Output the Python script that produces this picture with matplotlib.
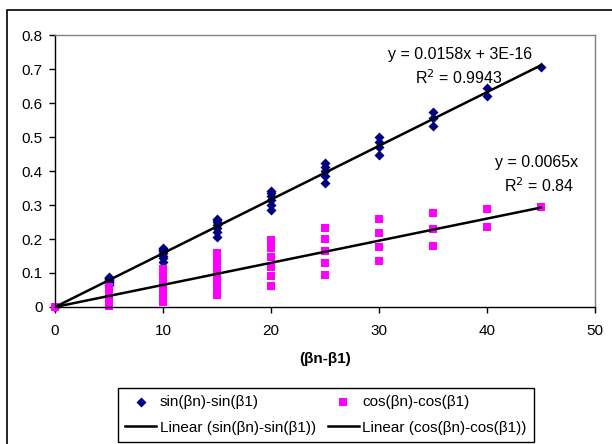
import matplotlib
matplotlib.use("Agg")
import matplotlib.pyplot as plt
from matplotlib.patches import Rectangle
from matplotlib.lines import Line2D

plt.rcParams['font.family'] = ['Liberation Sans', 'DejaVu Sans']

# differences (βn-β1) in degrees
sin_x = [0,
         5, 5, 5, 5, 5, 5, 5, 5, 5,
         10, 10, 10, 10, 10, 10, 10, 10,
         15, 15, 15, 15, 15, 15, 15,
         20, 20, 20, 20, 20, 20,
         25, 25, 25, 25, 25,
         30, 30, 30, 30,
         35, 35, 35,
         40, 40,
         45]
sin_y = [0,
         0.0872, 0.0864, 0.0852, 0.0832, 0.0806, 0.0774, 0.0736, 0.0692, 0.0643,
         0.1736, 0.1716, 0.1684, 0.1638, 0.1580, 0.1510, 0.1428, 0.1335,
         0.2588, 0.2548, 0.2490, 0.2416, 0.2316, 0.2202, 0.2071,
         0.3420, 0.3354, 0.3262, 0.3148, 0.3004, 0.2845,
         0.4226, 0.4128, 0.3999, 0.3840, 0.3651,
         0.5000, 0.4864, 0.4692, 0.4483,
         0.5736, 0.5556, 0.5335,
         0.6428, 0.6199,
         0.7071]
cos_x = sin_x
cos_y = [0,
         0.0038, 0.0114, 0.0189, 0.0262, 0.0334, 0.0403, 0.0468, 0.0532, 0.0589,
         0.0152, 0.0303, 0.0451, 0.0596, 0.0734, 0.0871, 0.0999, 0.1121,
         0.0341, 0.0565, 0.0785, 0.0996, 0.1205, 0.1397, 0.1589,
         0.0603, 0.0899, 0.1188, 0.1467, 0.1728, 0.1982,
         0.0937, 0.1302, 0.1656, 0.1987, 0.2326,
         0.1340, 0.1770, 0.2188, 0.2589,
         0.1808, 0.2301, 0.2777,
         0.2340, 0.2891,
         0.2929]

sin_slope, sin_icpt = 0.0158, 3e-16
cos_slope = 0.0065
trend_x = [0, 45]

x_ticks = [0, 10, 20, 30, 40, 50]
y_ticks = [0, 0.1, 0.2, 0.3, 0.4, 0.5, 0.6, 0.7, 0.8]
y_tick_labels = ['0', '0.1', '0.2', '0.3', '0.4', '0.5', '0.6', '0.7', '0.8']

W, H = 612, 444
FS = 11
fig = plt.figure(figsize=(W / 100, H / 100), dpi=100)

# outer chart border (top and left visible)
fig.patches.append(Rectangle((7 / W, -0.1), 1.2, (H - 10) / H + 0.1, transform=fig.transFigure,
                             fill=False, edgecolor='black', linewidth=1.2))

ax = fig.add_axes([55 / W, (H - 307) / H, 540 / W, 272 / H])
ax.set_xlim(0, 50)
ax.set_ylim(0, 0.8)

l_sin, = ax.plot(trend_x, [sin_slope * v + sin_icpt for v in trend_x], color='black', lw=1.8, zorder=3)
l_cos, = ax.plot(trend_x, [cos_slope * v for v in trend_x], color='black', lw=1.8, zorder=3)
s_sin = ax.scatter(sin_x, sin_y, marker='D', s=26, color='#000080', linewidths=0, zorder=2, clip_on=False)
s_cos = ax.scatter(cos_x, cos_y, marker='s', s=28, color='#FF00FF', linewidths=0, zorder=2.5, clip_on=False)

ax.set_xticks(x_ticks)
ax.set_yticks(y_ticks)
ax.set_yticklabels(y_tick_labels)
ax.tick_params(direction='out', length=4, width=1, labelsize=FS, color='black', pad=5)
ax.tick_params(axis='x', pad=8)
for s in ['top', 'right']:
    ax.spines[s].set_color('#808080')
    ax.spines[s].set_linewidth(1)
for s in ['left', 'bottom']:
    ax.spines[s].set_color('black')
    ax.spines[s].set_linewidth(1)

ax.set_xlabel('(βn-β1)', fontsize=FS, fontweight='bold', labelpad=10)

def fig_text(px, py, s):
    fig.text(px / W, 1 - py / H, s, ha='center', va='center', fontsize=11.5)

fig_text(460, 54, 'y = 0.0158x + 3E-16')
fig_text(459, 78, 'R$^2$ = 0.9943')
fig_text(537, 162, 'y = 0.0065x')
fig_text(539, 186, 'R$^2$ = 0.84')

handles = [s_sin, Line2D([], [], color='black', lw=1.8), s_cos, Line2D([], [], color='black', lw=1.8)]
labels = ['sin(βn)-sin(β1)', 'Linear (sin(βn)-sin(β1))',
          'cos(βn)-cos(β1)', 'Linear (cos(βn)-cos(β1))']
leg = fig.legend(handles, labels, ncol=2, loc='upper left',
                 bbox_to_anchor=(118 / W, 1 - 388 / H), fontsize=FS,
                 frameon=True, fancybox=False, edgecolor='black', framealpha=1,
                 handlelength=2.0, handletextpad=0.25, columnspacing=0.8,
                 borderpad=0.48, labelspacing=0.75, borderaxespad=0, scatterpoints=1)
leg.get_frame().set_linewidth(1)

fig.savefig('out.png', dpi=100)
